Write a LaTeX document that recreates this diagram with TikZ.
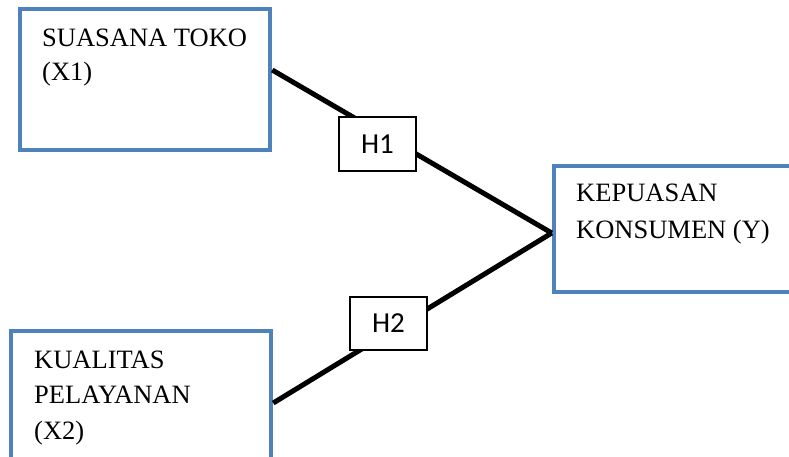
\documentclass[tikz,border=0pt]{standalone}
\usepackage{fontspec}
\setmainfont{Liberation Serif}
\newfontfamily\hfont{Carlito}
\definecolor{boxblue}{HTML}{4F81BD}
\tikzset{
  varbox/.style={draw=boxblue, line width=4.5pt, rectangle, inner sep=0pt, fill=white},
  vartext/.style={anchor=base west, inner sep=0pt, font=\fontsize{26.5}{35}\selectfont},
  hbox/.style={draw=black, line width=1.2pt, fill=white, rectangle, inner sep=0pt, font=\hfont\fontsize{29}{34}\selectfont},
  link/.style={draw=black, line width=5pt}
}
\begin{document}
\begin{tikzpicture}[x=1pt, y=-1pt]
\clip (0,0) rectangle (789,456);
% variable boxes
\node[varbox, minimum width=250pt, minimum height=141pt] (x1) at (145,79.5) {};
\node[varbox, minimum width=260pt, minimum height=139pt] (x2) at (141,400.5) {};
\node[varbox, minimum width=246pt, minimum height=126pt] (y) at (677,229) {};
% texts
\node[vartext] (x1a) at (42,46) {SUASANA TOKO};
\node[vartext] (x1b) at (42,80.5) {(X1)};
\node[vartext] (x2a) at (34,368) {KUALITAS};
\node[vartext] (x2b) at (34,403) {PELAYANAN};
\node[vartext] (x2c) at (34,439) {(X2)};
\node[vartext] (ya) at (576,201.5) {KEPUASAN};
\node[vartext] (yb) at (576,238) {KONSUMEN (Y)};
% connectors
\coordinate (c1) at ([yshift=9.5pt]x1.east);
\coordinate (c2) at ([yshift=-2.5pt]x2.east);
\coordinate (cy) at ([yshift=-4pt]y.west);
\draw[link] (c1) -- (cy);
\draw[link] (c2) -- (cy);
% hypothesis labels
\node[hbox, minimum width=77pt, minimum height=54pt] (h1) at (377.5,144) {H1};
\node[hbox, minimum width=77pt, minimum height=53pt] (h2) at (388.5,323.5) {H2};
\end{tikzpicture}
\end{document}
